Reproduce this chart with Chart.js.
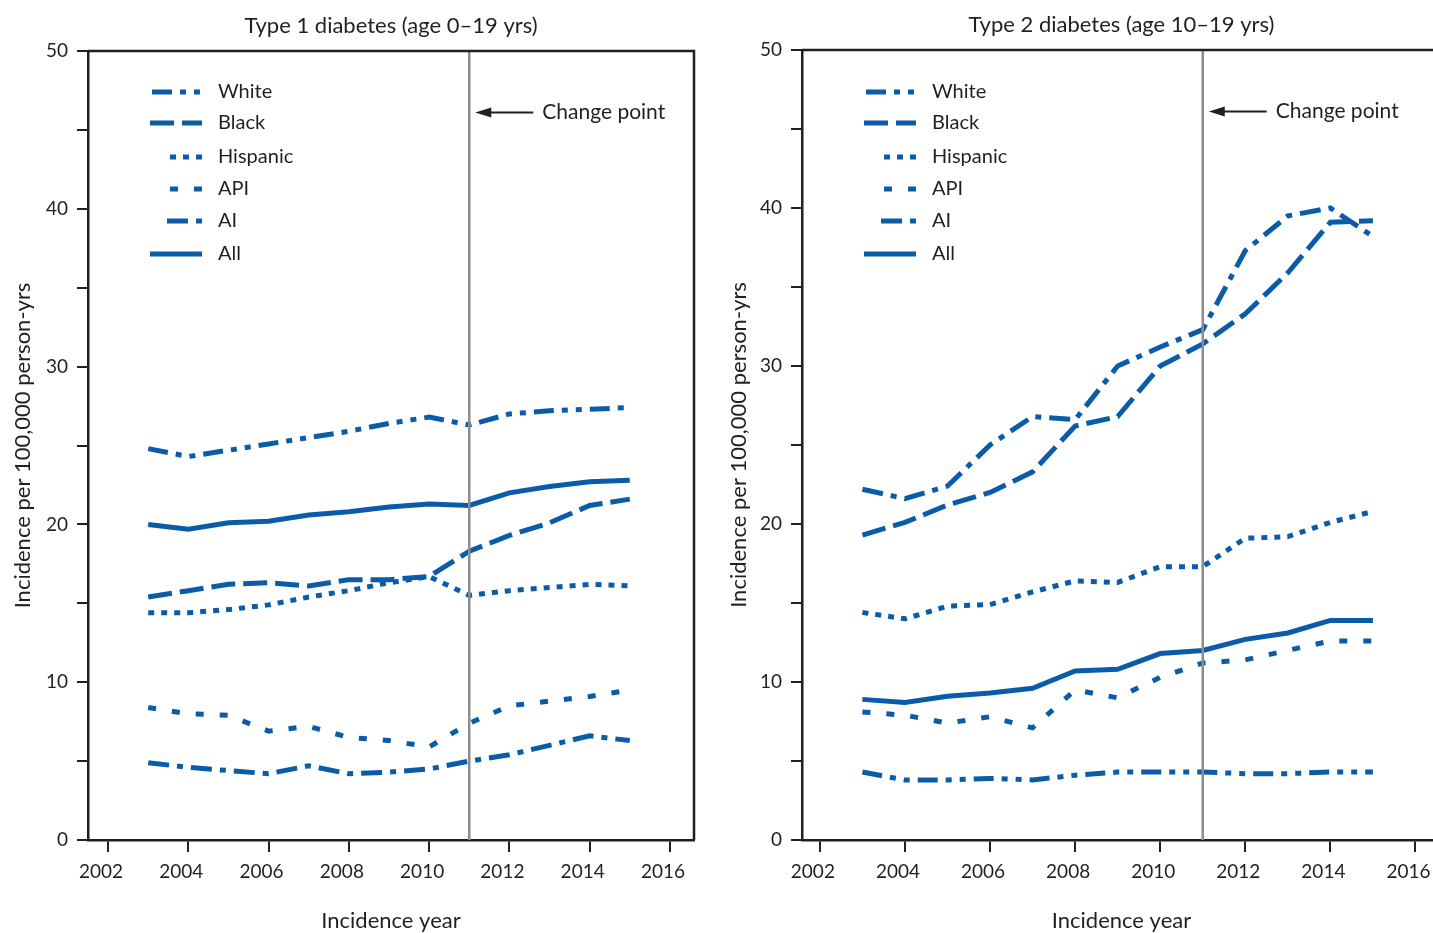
<!DOCTYPE html>
<html lang="en">
<head>
    <meta charset="UTF-8">
    <title>Diabetes incidence by race/ethnicity</title>
    <script src="https://cdn.jsdelivr.net/npm/chart.js"></script>
    <style>
        body {
            margin: 0;
            width: 1433px;
            height: 933px;
            overflow: hidden;
            background: #fff;
            position: relative;
        }
        canvas {
            position: absolute;
            top: 0;
        }
        #chart1 { left: 0; }
        #chart2 { left: 716px; }
    </style>
</head>
<body>
    <canvas id="chart1" width="716" height="933"></canvas>
    <canvas id="chart2" width="747" height="933"></canvas>

    <script>
        // Dane
        const years = [2003, 2004, 2005, 2006, 2007, 2008, 2009, 2010, 2011, 2012, 2013, 2014, 2015];
        const seriesNames = ['White', 'Black', 'Hispanic', 'API', 'AI', 'All'];
        const changePointYear = 2011;

        // Type 1 diabetes (age 0-19)
        const t1White    = [24.8, 24.3, 24.7, 25.1, 25.5, 25.9, 26.4, 26.8, 26.3, 27.0, 27.2, 27.3, 27.4];
        const t1Black    = [15.4, 15.8, 16.2, 16.3, 16.1, 16.5, 16.5, 16.7, 18.3, 19.3, 20.1, 21.2, 21.6];
        const t1Hispanic = [14.4, 14.4, 14.6, 14.9, 15.4, 15.8, 16.3, 16.7, 15.5, 15.8, 16.0, 16.2, 16.1];
        const t1API      = [8.4, 8.0, 7.9, 6.9, 7.2, 6.5, 6.3, 5.9, 7.4, 8.5, 8.8, 9.1, 9.5];
        const t1AI       = [4.9, 4.6, 4.4, 4.2, 4.7, 4.2, 4.3, 4.5, 5.0, 5.4, 6.0, 6.6, 6.3];
        const t1All      = [20.0, 19.7, 20.1, 20.2, 20.6, 20.8, 21.1, 21.3, 21.2, 22.0, 22.4, 22.7, 22.8];

        // Type 2 diabetes (age 10-19)
        const t2White    = [4.3, 3.8, 3.8, 3.9, 3.8, 4.1, 4.3, 4.3, 4.3, 4.2, 4.2, 4.3, 4.3];
        const t2Black    = [19.3, 20.1, 21.2, 22.0, 23.3, 26.2, 26.8, 30.0, 31.4, 33.3, 35.9, 39.1, 39.2];
        const t2Hispanic = [14.4, 14.0, 14.8, 14.9, 15.7, 16.4, 16.3, 17.3, 17.3, 19.1, 19.2, 20.1, 20.8];
        const t2API      = [8.1, 7.9, 7.4, 7.8, 7.1, 9.5, 9.0, 10.3, 11.2, 11.4, 12.0, 12.6, 12.6];
        const t2AI       = [22.2, 21.6, 22.4, 25.0, 26.8, 26.6, 30.0, 31.2, 32.3, 37.3, 39.5, 40.0, 38.2];
        const t2All      = [8.9, 8.7, 9.1, 9.3, 9.6, 10.7, 10.8, 11.8, 12.0, 12.7, 13.1, 13.9, 13.9];

        // Style linii
        const blue = '#0a5ca8';
        const ink = '#231f20';
        const fontFamily = 'Lato, "Open Sans", sans-serif';
        const dashes = {
            White: [20, 8, 6, 8, 6, 8],
            Black: [24, 8],
            Hispanic: [6, 7],
            API: [8, 16],
            AI: [21, 8, 6, 8],
            All: []
        };
        const legendLen = { White: 50, Black: 52, Hispanic: 32, API: 32, AI: 35, All: 52 };
        const legendRows = [92, 123, 157, 189, 221, 254];

        // Ramka, tytul, legenda i "Change point"
        const decorPlugin = {
            id: 'decor',
            afterDatasetsDraw(chart, args, opts) {
                const ctx = chart.ctx;
                const a = chart.chartArea;
                const xs = chart.scales.x, ys = chart.scales.y;
                ctx.save();

                // ramka (gora i prawa strona)
                ctx.strokeStyle = ink;
                ctx.lineWidth = 2.5;
                ctx.beginPath();
                ctx.moveTo(a.left, a.top);
                ctx.lineTo(a.right, a.top);
                ctx.lineTo(a.right, a.bottom);
                ctx.stroke();

                // tytul panelu
                ctx.fillStyle = ink;
                ctx.font = '22px ' + fontFamily;
                ctx.textAlign = 'center';
                ctx.textBaseline = 'middle';
                ctx.fillText(opts.title, (a.left + a.right) / 2, a.top - 25);

                // legenda
                ctx.font = '20px ' + fontFamily;
                ctx.textAlign = 'left';
                seriesNames.forEach((name, i) => {
                    const y = legendRows[i];
                    const xEnd = a.left + 114;
                    ctx.strokeStyle = blue;
                    ctx.lineWidth = 5;
                    ctx.lineCap = 'butt';
                    ctx.setLineDash(dashes[name]);
                    ctx.beginPath();
                    ctx.moveTo(xEnd - legendLen[name], y);
                    ctx.lineTo(xEnd, y);
                    ctx.stroke();
                    ctx.setLineDash([]);
                    ctx.fillStyle = ink;
                    ctx.fillText(name, a.left + 130, y);
                });

                // strzalka "Change point"
                const cx = xs.getPixelForValue(changePointYear);
                const ay = ys.getPixelForValue(46.1);
                const tip = cx + 6;
                ctx.strokeStyle = ink;
                ctx.fillStyle = ink;
                ctx.lineWidth = 2;
                ctx.beginPath();
                ctx.moveTo(tip + 12, ay);
                ctx.lineTo(tip + 58, ay);
                ctx.stroke();
                ctx.beginPath();
                ctx.moveTo(tip, ay);
                ctx.lineTo(tip + 16, ay - 5);
                ctx.lineTo(tip + 16, ay + 5);
                ctx.closePath();
                ctx.fill();
                ctx.font = '21px ' + fontFamily;
                ctx.fillText('Change point', tip + 67, ay);

                ctx.restore();
            }
        };

        function createChart(id, title, values, xMin, yWidth, padTop) {
            const datasets = seriesNames.map((name, i) => ({
                label: name,
                data: years.map((yr, j) => ({ x: yr, y: values[i][j] })),
                borderColor: blue,
                borderWidth: 5,
                borderDash: dashes[name],
                borderCapStyle: 'butt',
                borderJoinStyle: 'miter',
                pointRadius: 0,
                tension: 0,
                fill: false
            }));
            datasets.push({
                label: 'Change point',
                data: [{ x: changePointYear, y: 0 }, { x: changePointYear, y: 50 }],
                borderColor: '#8d8d8f',
                borderWidth: 2.5,
                pointRadius: 0,
                order: -1
            });

            return new Chart(document.getElementById(id), {
                type: 'line',
                data: { datasets: datasets },
                options: {
                    responsive: false,
                    animation: false,
                    layout: { padding: { left: 0, top: padTop, right: 22, bottom: 0 } },
                    plugins: {
                        legend: { display: false },
                        tooltip: { enabled: false },
                        decor: { title: title }
                    },
                    scales: {
                        x: {
                            type: 'linear',
                            min: xMin,
                            max: 2016.6,
                            afterFit: s => { s.height = 93; },
                            ticks: {
                                stepSize: 2,
                                includeBounds: false,
                                autoSkip: false,
                                maxRotation: 0,
                                padding: 8,
                                labelOffset: -7,
                                color: ink,
                                font: { family: fontFamily, size: 19 },
                                callback: v => String(v)
                            },
                            grid: { drawOnChartArea: false, tickLength: 12, color: ink, lineWidth: 2 },
                            border: { color: ink, width: 2.5 },
                            title: {
                                display: true,
                                text: 'Incidence year',
                                color: ink,
                                font: { family: fontFamily, size: 22 },
                                padding: { top: 0, bottom: -1 }
                            }
                        },
                        y: {
                            min: 0,
                            max: 50,
                            afterFit: s => { s.width = yWidth; },
                            ticks: {
                                stepSize: 5,
                                padding: 9,
                                color: ink,
                                font: { family: fontFamily, size: 19 },
                                callback: v => (v % 10 === 0 ? String(v) : '')
                            },
                            grid: { drawOnChartArea: false, tickLength: 11, color: ink, lineWidth: 2 },
                            border: { color: ink, width: 2.5 },
                            title: {
                                display: true,
                                text: 'Incidence per 100,000 person-yrs',
                                color: ink,
                                font: { family: fontFamily, size: 22 },
                                padding: { top: 10, bottom: 0 }
                            }
                        }
                    }
                },
                plugins: [decorPlugin]
            });
        }

        createChart('chart1', 'Type 1 diabetes (age 0\u201319 yrs)',
            [t1White, t1Black, t1Hispanic, t1API, t1AI, t1All], 2001.5, 88, 51);
        createChart('chart2', 'Type 2 diabetes (age 10\u201319 yrs)',
            [t2White, t2Black, t2Hispanic, t2API, t2AI, t2All], 2001.58, 86, 50);
    </script>
</body>
</html>
